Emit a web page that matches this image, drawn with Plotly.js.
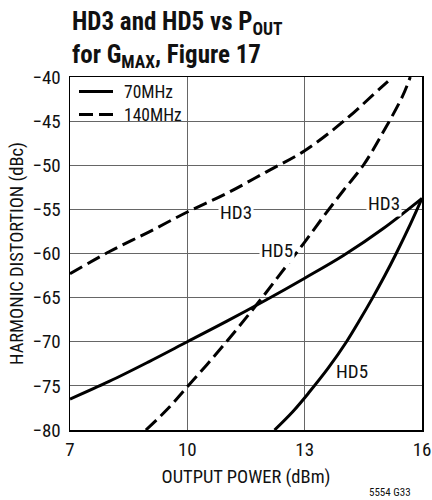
<!DOCTYPE html>
<html><head><meta charset="utf-8">
<script src="https://cdn.plot.ly/plotly-3.0.1.min.js"></script>
<style>body{margin:0;background:#fff}#c{width:432px;height:500px}</style>
</head><body><div id="c"></div>
<script>
const FONT = "Liberation Sans Narrow, Arial Narrow, Roboto Condensed, Liberation Sans, sans-serif";
const xTicks = [7, 10, 13, 16];
const yTicks = [-80, -75, -70, -65, -60, -55, -50, -45, -40];

const x70_hd3 = [7, 8, 9, 10, 11, 12, 13, 14, 15, 16];
const y70_hd3 = [-76.5, -74.5, -72.3, -70, -67.7, -65.3, -62.8, -60.2, -57.2, -53.75];

const x70_hd5 = [12.23, 12.7, 13.12, 13.6, 14.07, 14.4, 14.74, 15.05, 15.34, 15.7, 16];
const y70_hd5 = [-80, -77.9, -75.7, -73.0, -70, -67.6, -65, -62.5, -60, -56.7, -53.75];

const x140_hd3 = [7, 8, 9, 10, 11, 12, 13, 14, 15, 15.25];
const y140_hd3 = [-62.3, -59.8, -57.6, -55.3, -53.2, -50.8, -48.35, -45, -41, -40];

const x140_hd5 = [8.94, 9.5, 10, 10.5, 11, 11.5, 12, 12.5, 13, 13.5, 14, 14.5, 15, 15.5, 15.7];
const y140_hd5 = [-80, -77.6, -75.1, -72.6, -70, -67.3, -64.5, -61.6, -58.7, -55.7, -52.8, -50, -46.3, -42.2, -40];

const seriesNames = ["70MHz", "140MHz"];
const curveLabels = [
  {text: "HD3", x: 11.25, y: -55.3, bg: true},
  {text: "HD3", x: 15.04, y: -54.3, bg: true},
  {text: "HD5", x: 12.28, y: -59.7, bg: true},
  {text: "HD5", x: 14.22, y: -73.4, bg: false}
];

const solid = {color: "#000", width: 3, dash: "solid", shape: "spline"};
const dashed = {color: "#000", width: 3, dash: "14px,6px", shape: "spline"};

const traces = [
  {x: x70_hd3, y: y70_hd3, mode: "lines", line: solid, name: seriesNames[0]},
  {x: x70_hd5, y: y70_hd5, mode: "lines", line: solid, name: seriesNames[0]},
  {x: x140_hd3, y: y140_hd3, mode: "lines", line: dashed, name: seriesNames[1]},
  {x: x140_hd5, y: y140_hd5, mode: "lines", line: dashed, name: seriesNames[1]}
];

// plot area in pixels: left 70, right 422, top 77, bottom 430
const M = {l: 70, r: 10, t: 77, b: 70};
const PW = 432 - M.l - M.r, PH = 500 - M.t - M.b;
const px = v => (v - M.l) / PW;
const py = v => (500 - M.b - v) / PH;

const legendStyles = [solid, dashed];
const legendRows = [91.5, 114.5];
const shapes = [{
  type: "rect", xref: "paper", yref: "paper", layer: "below",
  x0: px(71), x1: px(188), y0: py(123), y1: py(78),
  fillcolor: "#fff", line: {width: 0}
}];
const legendAnn = [];
seriesNames.forEach((n, i) => {
  shapes.push({
    type: "line", xref: "paper", yref: "paper",
    x0: px(79), x1: px(113), y0: py(legendRows[i]), y1: py(legendRows[i]),
    line: {color: "#000", width: 3, dash: legendStyles[i].dash}
  });
  legendAnn.push({
    text: n, xref: "paper", yref: "paper", x: px(122), y: py(legendRows[i]),
    xanchor: "left", yanchor: "middle", showarrow: false,
    font: {size: 17.5, color: "#111"}
  });
});

const layout = {
  width: 432, height: 500,
  margin: M,
  paper_bgcolor: "#fff", plot_bgcolor: "#fff",
  font: {family: FONT, color: "#111", size: 19},
  showlegend: false,
  xaxis: {
    range: [7, 16], tickvals: xTicks, ticktext: xTicks.map(String),
    showgrid: true, gridcolor: "#666", gridwidth: 1,
    showline: true, linecolor: "#000", linewidth: 1.5, mirror: true,
    ticks: "", zeroline: false, ticklabelstandoff: 2,
    tickfont: {size: 19},
    title: {text: "OUTPUT POWER (dBm)", font: {size: 18.5}, standoff: 10}
  },
  yaxis: {
    range: [-80, -40], tickvals: yTicks,
    showgrid: true, gridcolor: "#666", gridwidth: 1,
    showline: true, linecolor: "#000", linewidth: 1.5, mirror: true,
    ticks: "", zeroline: false, ticklabelstandoff: 4,
    tickfont: {size: 19},
    title: {text: "HARMONIC DISTORTION (dBc)", font: {size: 18.5}, standoff: 4}
  },
  shapes: shapes,
  annotations: curveLabels.map(l => ({
    text: l.text, x: l.x, y: l.y, xref: "x", yref: "y",
    showarrow: false, font: {size: 19, color: "#111"},
    bgcolor: l.bg ? "#fff" : "rgba(0,0,0,0)", borderpad: 1
  })).concat(legendAnn).concat([{
    text: "<b>HD3 and HD5 vs P<sub>OUT</sub><br>for G<sub>MAX</sub>, Figure 17</b>",
    xref: "paper", yref: "paper", x: 0, y: 1 + 72/353,
    xanchor: "left", yanchor: "top", align: "left", showarrow: false,
    font: {size: 25, color: "#111"}
  }, {
    text: "5554 G33", xref: "paper", yref: "paper", x: 0.975, y: -62/353,
    xanchor: "right", yanchor: "middle", showarrow: false,
    font: {size: 11, color: "#111"}
  }])
};

Plotly.newPlot("c", traces, layout, {staticPlot: true, displayModeBar: false});
</script>
</body></html>
